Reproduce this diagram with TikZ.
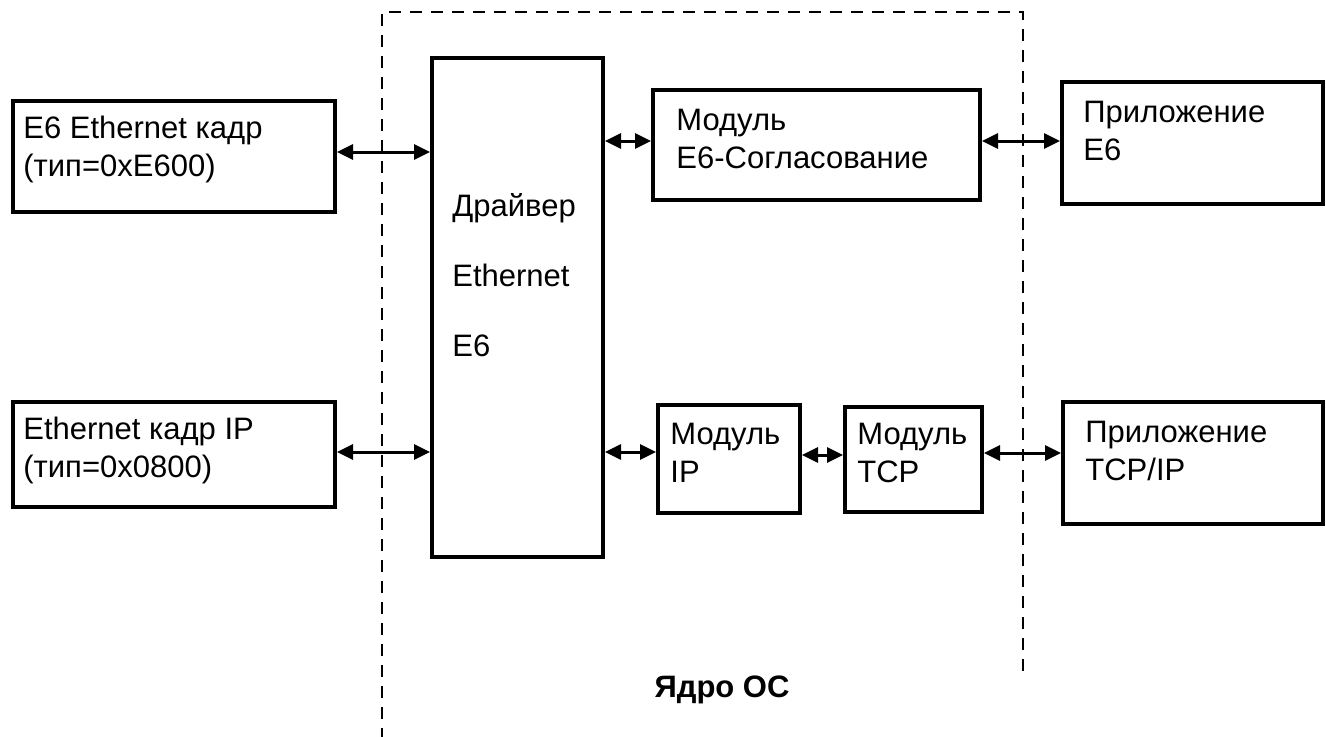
\documentclass[tikz,border=0pt]{standalone}
\usepackage{fontspec}
\setmainfont{Liberation Sans}
\usetikzlibrary{arrows.meta,fit,calc}

\begin{document}
\begin{tikzpicture}[x=0.5pt,y=-0.5pt,
  blk/.style={draw, line width=2pt, inner sep=0pt},
  % the base anchor of a multi-line label sits on its last line
  lbl/.style={anchor=base west, align=left, inner sep=0pt,
              font=\fontsize{15.5}{19}\selectfont},
  link/.style={line width=1.5pt,
               {Triangle[length=8pt,width=7.5pt]}-{Triangle[length=8pt,width=7.5pt]}},
  kernel/.style={line width=1.4pt, dash pattern=on 6pt off 4.5pt}]
\useasboundingbox (0,0) rectangle (1326,736);

% kernel boundary (open at the bottom)
\coordinate (kbl) at (382,740);
\coordinate (ktl) at (382,12);
\coordinate (ktr) at (1023,12);
\coordinate (kbr) at (1023,672);
\draw[kernel] (kbl) -- (ktl) -- (ktr) -- (kbr);
\node[anchor=base, inner sep=0pt, font=\fontsize{15.5}{19}\selectfont\bfseries]
  (kern) at (722,697) {Ядро ОС};

% blocks
\node[blk, fit={(13,101) (335,212)}] (f1) {};
\node[blk, fit={(13,402) (335,507)}] (f2) {};
\node[blk, fit={(432,58) (603,557)}] (drv) {};
\node[blk, fit={(653,90) (980,200)}] (me6) {};
\node[blk, fit={(658,405) (800,513)}] (mip) {};
\node[blk, fit={(845,407) (982,512)}] (mtcp) {};
\node[blk, fit={(1062,82) (1323,204)}] (a1) {};
\node[blk, fit={(1063,402) (1323,524)}] (a2) {};

% block texts
\node[lbl] (f1t) at (23,176) {E6 Ethernet кадр\\(тип=0xE600)};
\node[lbl] (f2t) at (23,477) {Ethernet кадр IP\\(тип=0x0800)};
\node[lbl, font=\fontsize{15.5}{35}\selectfont] (drvt) at (452,356) {Драйвер\\Ethernet\\E6};
\node[lbl] (me6t) at (676,168) {Модуль\\E6-Согласование};
\node[lbl] (mipt) at (670,482) {Модуль\\IP};
\node[lbl] (mtcpt) at (857,482) {Модуль\\TCP};
\node[lbl] (a1t) at (1083,160) {Приложение\\E6};
\node[lbl] (a2t) at (1085,480) {Приложение\\TCP/IP};

% connectors
\coordinate (p1) at ([yshift=2.25pt]f1.east);
\coordinate (p2) at ([yshift=1.25pt]f2.east);
\coordinate (p3) at ([yshift=2pt]me6.west);
\coordinate (p4) at ([yshift=2pt]me6.east);
\coordinate (p5) at ([yshift=3.5pt]mip.west);
\coordinate (p6) at ([yshift=2pt]mip.east);
\coordinate (p7) at ([yshift=3.25pt]mtcp.east);
\draw[link] (p1) -- (p1 -| drv.west);
\draw[link] (p2) -- (p2 -| drv.west);
\draw[link] (p3 -| drv.east) -- (p3);
\draw[link] (p4) -- (p4 -| a1.west);
\draw[link] (p5 -| drv.east) -- (p5);
\draw[link] (p6) -- (p6 -| mtcp.west);
\draw[link] (p7) -- (p7 -| a2.west);
\end{tikzpicture}
\end{document}
